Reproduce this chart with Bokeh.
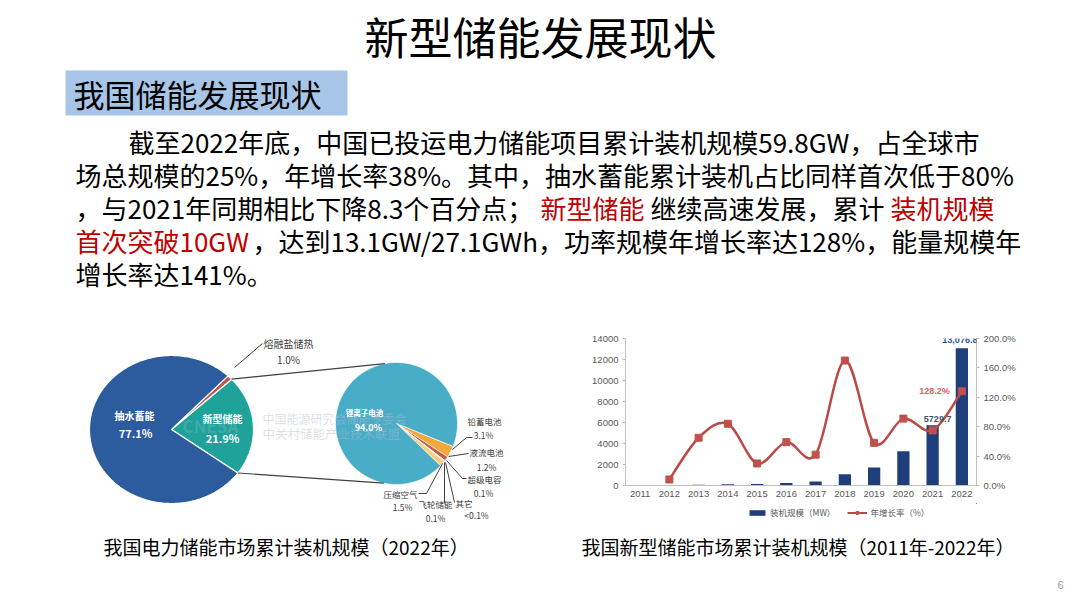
import numpy as np
from bokeh.plotting import figure
from bokeh.layouts import column, row
from bokeh.models import (Range1d, LinearAxis, FixedTicker, PrintfTickFormatter,
                          Legend, LegendItem, Label)
from bokeh.core.properties import value
from bokeh.embed import file_html
from bokeh.resources import INLINE

CJK = "Noto Sans CJK SC"

# ---------------- data ----------------
years = ["2011", "2012", "2013", "2014", "2015", "2016", "2017", "2018", "2019", "2020", "2021", "2022"]
capacity_mw = [33, 36, 60, 110, 142.7, 243, 389.8, 1073.7, 1709.6, 3269.2, 5729.7, 13076.8]
growth_pct = [None, 8.2, 65, 84, 30, 59, 42, 170, 58, 91, 75, 128.2]
left_ticks = [0, 2000, 4000, 6000, 8000, 10000, 12000, 14000]
right_ticks = [0, 40, 80, 120, 160, 200]

pie1_labels = ["新型储能", "熔融盐储热", "抽水蓄能"]
pie1_values = [21.9, 1.0, 77.1]
pie1_texts = ["21.9%", "1.0%", "77.1%"]
pie1_colors = ["#1fa29a", "#c0504d", "#2c5b9e"]

pie2_labels = ["铅蓄电池", "液流电池", "超级电容", "其它", "飞轮储能", "压缩空气", "锂离子电池"]
pie2_values = [3.1, 1.2, 0.1, 0.05, 0.1, 1.5, 94.0]
pie2_texts = ["3.1%", "1.2%", "0.1%", "<0.1%", "0.1%", "1.5%", "94.0%"]
pie2_colors = ["#f2a93b", "#c9584c", "#8faadc", "#a5a5a5", "#5b9bd5", "#f8cf7e", "#4aadc8"]

W_TOP, H_TOP = 1064, 318
W_MID, H_MID = 532, 212
H_BAR, H_LEG = 185, 27
H_BOT = 60


def add_text(p, x, y, text, size, color="#000000", align="left", bold=False,
             font=CJK, baseline="middle", alpha=1.0):
    p.text(x=[x], y=[y], text=[text], text_font=value(font), text_font_size=size,
           text_color=color, text_align=align, text_baseline=baseline,
           text_font_style="bold" if bold else "normal", text_alpha=alpha)


def canvas(w, h, xr, yr):
    p = figure(width=w, height=h, x_range=xr, y_range=yr, output_backend="svg",
               toolbar_location=None, x_axis_location=None, y_axis_location=None,
               min_border=0)
    p.xgrid.visible = False
    p.ygrid.visible = False
    p.outline_line_color = None
    p.background_fill_color = "white"
    p.border_fill_color = "white"
    return p


# ---------------- top: title + text ----------------
top = canvas(W_TOP, H_TOP, Range1d(0, W_TOP), Range1d(H_TOP, 0))
add_text(top, 540, 35, "新型储能发展现状", "44px", align="center")
top.quad(left=[65], right=[347], top=[70], bottom=[115], fill_color="#a7c5e6", line_color=None)
add_text(top, 73, 93, "我国储能发展现状", "31px")

red = "#c00000"
fs = "26px"
add_text(top, 128, 141, "截至2022年底，中国已投运电力储能项目累计装机规模59.8GW，占全球市", fs)
add_text(top, 75, 174, "场总规模的25%，年增长率38%。其中，抽水蓄能累计装机占比同样首次低于80%", fs)
add_text(top, 75, 207, "，与2021年同期相比下降8.3个百分点；", fs)
add_text(top, 540, 207, "新型储能", fs, color=red)
add_text(top, 650, 207, "继续高速发展，累计", fs)
add_text(top, 890, 207, "装机规模", fs, color=red)
add_text(top, 75, 240, "首次突破10GW", fs, color=red)
add_text(top, 252, 240, "，达到13.1GW/27.1GWh，功率规模年增长率达128%，能量规模年", fs)
add_text(top, 75, 273, "增长率达141%。", fs)

# ---------------- left: pie of pie ----------------
pie = canvas(W_MID, H_MID, Range1d(0, W_MID), Range1d(H_TOP + H_MID, H_TOP))


def slices(values, cx, cy, rx, ry, start_deg, direction):
    total = sum(values)
    xs, ys, bounds = [], [], []
    a = start_deg
    for v in values:
        sweep = direction * 360.0 * v / total
        th = np.radians(np.linspace(a, a + sweep, max(4, int(abs(sweep)) + 2)))
        xs.append([cx] + list(cx + rx * np.cos(th)) + [cx])
        ys.append([cy] + list(cy - ry * np.sin(th)) + [cy])
        bounds.append((a, a + sweep))
        a += sweep
    return xs, ys, bounds


# big pie
c1x, c1y, r1x, r1y = 171, 429, 82, 74
xs1, ys1, b1 = slices(pie1_values, c1x, c1y, r1x, r1y, -36.0, 1)
pie.patches(xs=xs1, ys=ys1, fill_color=pie1_colors, line_color="white", line_width=1.2)

# small pie
c2x, c2y, r2 = 396, 423, 61
xs2, ys2, b2 = slices(pie2_values, c2x, c2y, r2, r2, -22.0, -1)
pie.patches(xs=xs2, ys=ys2, fill_color=pie2_colors, line_color="white", line_width=0.6)

# connector lines
t_lo, t_hi = b1[0]
for ang, ang2 in [(t_hi, 101.0), (t_lo, -102.0)]:
    pie.line(x=[c1x + r1x * np.cos(np.radians(ang)), c2x + r2 * np.cos(np.radians(ang2))],
             y=[c1y - r1y * np.sin(np.radians(ang)), c2y - r2 * np.sin(np.radians(ang2))],
             line_color="#404040", line_width=1.2)

# watermark
add_text(pie, 262, 418, "中国能源研究会储能专委会", "12px", color="#b0bcc8", alpha=0.45)
add_text(pie, 262, 433, "中关村储能产业技术联盟", "12.5px", color="#b0bcc8", alpha=0.45)
add_text(pie, 182, 425, "CNESA", "17px", color="#8fbfd0", alpha=0.3, bold=True)

# big pie labels
add_text(pie, 134, 415, pie1_labels[2], "10px", color="white", align="center", bold=True)
add_text(pie, 135, 432, pie1_texts[2], "11px", color="white", align="center", bold=True)
add_text(pie, 222, 418, pie1_labels[0], "10px", color="white", align="center", bold=True)
add_text(pie, 222, 437, pie1_texts[0], "11px", color="white", align="center", bold=True)
pie.line(x=[234, 262], y=[367, 343], line_color="#404040", line_width=1)
add_text(pie, 263, 343, pie1_labels[1], "10px", color="#404040")
add_text(pie, 288, 359, pie1_texts[1], "10px", color="#404040", align="center")

# small pie labels
add_text(pie, 364, 412, pie2_labels[6], "7.5px", color="white", align="center", bold=True)
add_text(pie, 368, 427, pie2_texts[6], "9px", color="white", align="center", bold=True)

lab_col = "#404040"
small_fs = "8.5px"
# (label x, label y, value x, value y, leader xs, leader ys, align)
lead = [
    (467, 420, 483, 434, [452, 466, 472], [449, 437, 437], "left"),
    (469, 451, 486, 466, [448, 468], [456, 453], "left"),
    (467, 478, 483, 492, [446, 462, 466], [460, 478, 478], "left"),
    (455, 502, 476, 514, [445, 454], [462, 502], "left"),
    (452, 503, 435, 517, [444, 444], [462, 503], "right"),
    (417, 493, 402, 506, [442, 426, 418], [463, 493, 493], "right"),
]
for i, (lx, ly, vx, vy, lxs, lys, al) in enumerate(lead):
    pie.line(x=lxs, y=lys, line_color="#404040", line_width=1)
    add_text(pie, lx, ly, pie2_labels[i], small_fs, color=lab_col, align=al)
    add_text(pie, vx, vy, pie2_texts[i], small_fs, color=lab_col, align="center")

# ---------------- right: bar + line ----------------
idx = list(range(len(years)))
bar = figure(width=W_MID, height=H_BAR, x_range=Range1d(-0.5, 11.5), y_range=Range1d(0, 14000),
             output_backend="svg", toolbar_location=None,
             min_border_left=93, min_border_right=88, min_border_top=20, min_border_bottom=18)
bar.background_fill_color = "white"
bar.border_fill_color = "white"
bar.outline_line_color = None
bar.xgrid.visible = False
bar.ygrid.visible = False
bar.extra_y_ranges = {"pct": Range1d(0, 200)}

axis_col = "#bfbfbf"
lab_c = "#595959"
bar.yaxis.ticker = FixedTicker(ticks=left_ticks)
bar.xaxis.ticker = FixedTicker(ticks=idx)
bar.xaxis.major_label_overrides = {i: y for i, y in enumerate(years)}


def style_axis(ax):
    ax.axis_line_color = axis_col
    ax.major_tick_line_color = axis_col
    ax.minor_tick_line_color = None
    ax.major_tick_in = 0
    ax.major_tick_out = 3
    ax.major_label_text_font = "Liberation Sans"
    ax.major_label_text_font_size = "9.5px"
    ax.major_label_text_color = lab_c


style_axis(bar.xaxis[0])
style_axis(bar.yaxis[0])
bar.xaxis.major_tick_out = 0
bar.xaxis.major_label_standoff = 5
bar.yaxis.major_label_standoff = 4

raxis = LinearAxis(y_range_name="pct", ticker=FixedTicker(ticks=right_ticks),
                   formatter=PrintfTickFormatter(format="%.1f%%"))
style_axis(raxis)
raxis.major_label_standoff = 4
bar.add_layout(raxis, "right")

bar_col = "#1f3f7a"
line_col = "#b94a48"
bar.vbar(x=idx, top=capacity_mw, width=0.42, fill_color=bar_col, line_color=None)

# smooth growth line (bezier through the data points)
gx = [i for i, g in zip(idx, growth_pct) if g is not None]
gy = [g for g in growth_pct if g is not None]
n = len(gx)
x0, y0, x1, y1, cx0, cy0, cx1, cy1 = [], [], [], [], [], [], [], []
for i in range(n - 1):
    pm = max(i - 1, 0)
    pp = min(i + 2, n - 1)
    x0.append(gx[i]); y0.append(gy[i]); x1.append(gx[i + 1]); y1.append(gy[i + 1])
    cx0.append(gx[i] + (gx[i + 1] - gx[pm]) / 6.0)
    cy0.append(gy[i] + (gy[i + 1] - gy[pm]) / 6.0)
    cx1.append(gx[i + 1] - (gx[pp] - gx[i]) / 6.0)
    cy1.append(gy[i + 1] - (gy[pp] - gy[i]) / 6.0)
bar.bezier(x0=x0, y0=y0, x1=x1, y1=y1, cx0=cx0, cy0=cy0, cx1=cx1, cy1=cy1,
           y_range_name="pct", line_color=line_col, line_width=2.5)
bar.scatter(x=gx, y=gy, y_range_name="pct", marker="square", size=7,
            fill_color="#c0504d", line_color="#c0504d")

bar.add_layout(Label(x=idx[11], y=capacity_mw[11], text="13,076.8", text_align="center",
                     text_baseline="bottom", y_offset=5, x_offset=-2, text_font="Liberation Sans",
                     text_font_size="9px", text_font_style="bold", text_color="#2f5597"))
bar.add_layout(Label(x=idx[10], y=capacity_mw[10], text="5729.7", text_align="center",
                     text_baseline="bottom", y_offset=3, x_offset=5, text_font="Liberation Sans",
                     text_font_size="9px", text_font_style="bold", text_color="#44546a"))
bar.add_layout(Label(x=idx[11], y=growth_pct[11], y_range_name="pct", text="128.2%",
                     text_align="right", text_baseline="middle", x_offset=-12,
                     text_font="Liberation Sans", text_font_size="9px",
                     text_font_style="bold", text_color="#e06060"))

# ---------------- legend strip under the bar chart ----------------
# the series are drawn again outside the visible range so the legend has glyphs to show
leg = canvas(W_MID, H_LEG, Range1d(-100, -99), Range1d(-100, -99))
lr_bar = leg.vbar(x=idx, top=capacity_mw, width=0.5, fill_color=bar_col, line_color=None)
lr_line = leg.line(x=gx, y=gy, line_color=line_col, line_width=2)
lr_mark = leg.scatter(x=gx, y=gy, marker="square", size=6, fill_color="#c0504d",
                      line_color="#c0504d")
legend = Legend(items=[LegendItem(label="装机规模（MW）", renderers=[lr_bar]),
                       LegendItem(label="年增长率（%）", renderers=[lr_line, lr_mark])],
                orientation="horizontal", location=(122, 12))
legend.label_text_font = CJK
legend.label_text_font_size = "8.5px"
legend.label_text_color = lab_c
legend.glyph_width = 20
legend.glyph_height = 7
legend.spacing = 12
legend.padding = 0
legend.margin = 0
legend.label_standoff = 3
legend.border_line_color = None
legend.background_fill_alpha = 0
leg.add_layout(legend)

# ---------------- bottom: captions ----------------
y_bot0 = H_TOP + H_MID
bot = canvas(W_TOP, H_BOT, Range1d(0, W_TOP), Range1d(y_bot0 + H_BOT, y_bot0))
add_text(bot, 103, 546, "我国电力储能市场累计装机规模（2022年）", "19px")
add_text(bot, 581, 546, "我国新型储能市场累计装机规模（2011年-2022年）", "19px")
add_text(bot, 1060, 584, "6", "11px", color="#a0a0a0", align="center", font="Liberation Sans")

layout = column(top, row(pie, column(bar, leg, spacing=0), spacing=0), bot, spacing=0)
open("out.html", "w").write(file_html(layout, INLINE))
